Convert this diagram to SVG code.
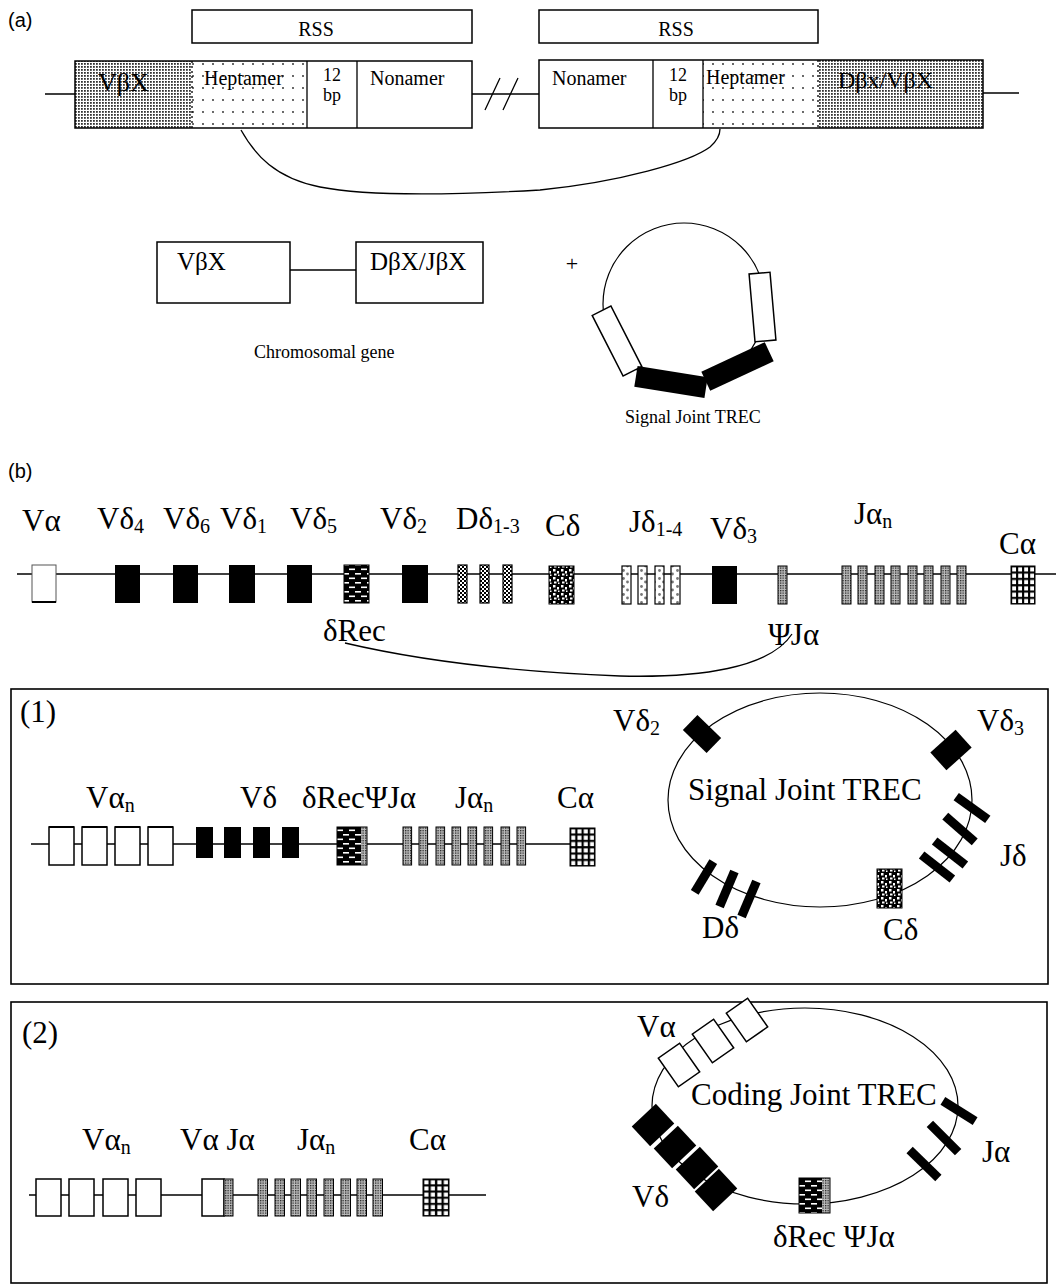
<svg xmlns="http://www.w3.org/2000/svg" width="1056" height="1285" viewBox="0 0 1056 1285">
<style>
.ln{stroke:#000;stroke-width:1.3;fill:none}
.bx{fill:#fff;stroke:#000;stroke-width:1.5}
.ob{fill:none;stroke:#000;stroke-width:1.5}
.blk{fill:#000}
.t{font-family:"Liberation Serif","Times New Roman",serif;fill:#000}
.big{font-size:31px}
.sm{font-size:20px}
.bp{font-size:18px}
.sub{font-size:20px}
.sans{font-family:"Liberation Sans",Arial,sans-serif;font-size:20px;fill:#000}
.fr{fill:none;stroke:#000;stroke-width:1.6}
</style>
<defs>
<pattern id="pStip" width="3" height="3" patternUnits="userSpaceOnUse"><rect width="3" height="3" fill="#fff"/><rect width="1.8" height="1.8" fill="#333"/></pattern>
<pattern id="pDots" width="10" height="12" patternUnits="userSpaceOnUse"><rect width="10" height="12" fill="#fff"/><circle cx="3" cy="4" r="0.9" fill="#222"/></pattern>
<pattern id="pBrick" width="12" height="9" patternUnits="userSpaceOnUse"><rect width="12" height="9" fill="#000"/><rect x="1" y="1.5" width="6" height="1.6" fill="#fff"/><rect x="7" y="6" width="6" height="1.6" fill="#fff"/><rect x="-5" y="6" width="6" height="1.6" fill="#fff"/></pattern>
<pattern id="pChk" width="4" height="4" patternUnits="userSpaceOnUse"><rect width="4" height="4" fill="#fff"/><rect width="2" height="2" fill="#000"/><rect x="2" y="2" width="2" height="2" fill="#000"/></pattern>
<pattern id="pCd" width="8" height="8" patternUnits="userSpaceOnUse"><rect width="8" height="8" fill="#000"/><rect x="1" y="1" width="2.5" height="2.5" fill="#fff"/><rect x="5" y="3" width="2" height="2.5" fill="#fff"/><rect x="2" y="5.5" width="2.5" height="2" fill="#fff"/><rect x="6" y="6.5" width="1.5" height="1.5" fill="#fff"/></pattern>
<pattern id="pJd" width="9" height="8" patternUnits="userSpaceOnUse"><rect width="9" height="8" fill="#fff"/><circle cx="2.5" cy="2.5" r="1.4" fill="#777"/><circle cx="6.5" cy="6" r="1.4" fill="#777"/></pattern>
<pattern id="pDense" width="2.5" height="2.5" patternUnits="userSpaceOnUse"><rect width="2.5" height="2.5" fill="#bbb"/><rect width="1.3" height="1.3" fill="#222"/></pattern>
<pattern id="pGrid" patternUnits="objectBoundingBox" width="0.25" height="0.16667" patternContentUnits="objectBoundingBox"><rect width="0.25" height="0.16667" fill="#000"/><rect x="0.05" y="0.035" width="0.16" height="0.11" fill="#fff"/></pattern>
</defs>

<!-- ===== (a) ===== -->
<g id="label-a"><text class="sans" x="8" y="27">(a)</text></g>

<g id="rss-1"><rect class="bx" x="192" y="10" width="280" height="33"/><text class="t" font-size="20" x="316" y="36" text-anchor="middle">RSS</text></g>
<g id="rss-2"><rect class="bx" x="539" y="10" width="279" height="33"/><text class="t" font-size="20" x="676" y="36" text-anchor="middle">RSS</text></g>

<g id="gene-a-left">
<path class="ln" d="M45,94 H75 M472,94 H539"/>
<rect x="75" y="61" width="117" height="67" fill="url(#pStip)"/>
<rect x="192" y="61" width="115" height="67" fill="url(#pDots)"/>
<rect class="ob" x="75" y="61" width="397" height="67"/>
<path class="ln" d="M307,61 V128 M357,61 V128"/>
<path d="M192,61 V128" stroke="#000" stroke-width="1.3" stroke-dasharray="2,3"/>
<text class="t" font-size="26" x="98" y="91">VβX</text>
<text class="t sm" x="204" y="85">Heptamer</text>
<text class="t bp" x="332" y="81" text-anchor="middle">12</text>
<text class="t bp" x="332" y="101" text-anchor="middle">bp</text>
<text class="t sm" x="370" y="85">Nonamer</text>
</g>
<g id="break"><path class="ln" d="M485,110 L500,78 M503,110 L518,78"/></g>
<g id="gene-a-right">
<path class="ln" d="M983,93 H1019"/>
<rect x="703" y="60" width="115" height="68" fill="url(#pDots)"/>
<rect x="818" y="60" width="165" height="68" fill="url(#pStip)"/>
<rect class="ob" x="539" y="60" width="444" height="68"/>
<path class="ln" d="M653,60 V128 M703,60 V128"/>
<path d="M818,60 V128" stroke="#000" stroke-width="1.3" stroke-dasharray="2,3"/>
<text class="t sm" x="552" y="85">Nonamer</text>
<text class="t bp" x="678" y="81" text-anchor="middle">12</text>
<text class="t bp" x="678" y="101" text-anchor="middle">bp</text>
<text class="t sm" x="706" y="84">Heptamer</text>
<text class="t" font-size="24" x="838" y="88">Dβx/VβX</text>
</g>

<g id="chromosomal-gene">
<path class="ln" d="M290,270 H356"/>
<rect class="bx" x="157" y="242" width="133" height="61"/>
<rect class="bx" x="356" y="242" width="127" height="61"/>
<text class="t" font-size="25" x="177" y="270">VβX</text>
<text class="t" font-size="25" x="370" y="270">DβX/JβX</text>
<text class="t" font-size="18" x="254" y="358">Chromosomal gene</text>
</g>
<g id="plus"><text class="t" font-size="22" x="572" y="271" text-anchor="middle">+</text></g>

<g id="trec-a">
<circle cx="684" cy="304" r="81" fill="none" stroke="#000" stroke-width="1.2"/>
<rect class="bx" x="-10.5" y="-34" width="21" height="68" transform="translate(762.5,307) rotate(-5)"/>
<rect class="bx" x="-10.5" y="-34" width="21" height="68" transform="translate(617,341) rotate(-27)"/>
<rect class="blk" x="-35.5" y="-10.5" width="71" height="21" transform="translate(671,382) rotate(9)"/>
<rect class="blk" x="-35" y="-10.5" width="70" height="21" transform="translate(737.5,366.5) rotate(-25)"/>
<text class="t" font-size="18" x="625" y="423">Signal Joint TREC</text>
</g>

<!-- ===== (b) ===== -->
<g id="label-b"><text class="sans" x="8" y="478">(b)</text></g>

<g id="locus">
<path class="ln" d="M17,574 H1056"/>
<rect x="32" y="565" width="24" height="37" fill="#fff" stroke="#555" stroke-width="1"/>
<path d="M32,602 H56" stroke="#000" stroke-width="2"/>
<rect class="blk" x="115" y="565" width="25" height="38"/>
<rect class="blk" x="173" y="565" width="25" height="38"/>
<rect class="blk" x="229" y="565" width="26" height="38"/>
<rect class="blk" x="287" y="565" width="25" height="38"/>
<rect x="344" y="565" width="25" height="38" fill="url(#pBrick)" stroke="#000"/>
<rect class="blk" x="402" y="565" width="26" height="38"/>
<g fill="url(#pChk)" stroke="#000" stroke-width="1.2">
<rect x="458" y="565" width="9" height="38"/><rect x="480" y="565" width="9" height="38"/><rect x="503" y="565" width="9" height="38"/>
</g>
<rect x="549" y="566" width="25" height="38" fill="url(#pCd)" stroke="#000"/>
<g fill="url(#pJd)" stroke="#000" stroke-width="1.2">
<rect x="622" y="566" width="9" height="38"/><rect x="638" y="566" width="9" height="38"/><rect x="655" y="566" width="9" height="38"/><rect x="671" y="566" width="9" height="38"/>
</g>
<rect class="blk" x="712" y="566" width="25" height="38"/>
<g fill="url(#pDense)" stroke="#000" stroke-width="1">
<rect x="778" y="566" width="9" height="38"/>
<rect x="842" y="566" width="9" height="38"/><rect x="858" y="566" width="9" height="38"/><rect x="875" y="566" width="9" height="38"/><rect x="891" y="566" width="9" height="38"/><rect x="908" y="566" width="9" height="38"/><rect x="924" y="566" width="9" height="38"/><rect x="941" y="566" width="9" height="38"/><rect x="957" y="566" width="9" height="38"/>
</g>
<rect x="1011" y="566" width="24" height="38" fill="url(#pGrid)" stroke="#000"/>
<g class="t big">
<text x="22" y="531">Vα</text>
<text x="97" y="529">Vδ<tspan class="sub" dy="4">4</tspan></text>
<text x="163" y="529">Vδ<tspan class="sub" dy="4">6</tspan></text>
<text x="220" y="529">Vδ<tspan class="sub" dy="4">1</tspan></text>
<text x="290" y="529">Vδ<tspan class="sub" dy="4">5</tspan></text>
<text x="380" y="529">Vδ<tspan class="sub" dy="4">2</tspan></text>
<text x="456" y="529">Dδ<tspan class="sub" dy="4">1-3</tspan></text>
<text x="545" y="536">Cδ</text>
<text x="629" y="532">Jδ<tspan class="sub" dy="4">1-4</tspan></text>
<text x="710" y="539">Vδ<tspan class="sub" dy="4">3</tspan></text>
<text x="854" y="524">Jα<tspan class="sub" dy="4">n</tspan></text>
<text x="999" y="554">Cα</text>
<text x="323" y="641">δRec</text>
<text x="768" y="645">ΨJα</text>
</g>
</g>

<g id="connectors">
<path class="ln" d="M241,130 C255,155 275,178 320,187 C370,197 470,194 540,190 C620,182 690,162 710,147 C718,140 720,135 720,129"/>
<path class="ln" d="M345,643 C430,663 520,672 620,676 C700,678 770,668 792,634"/>
</g>

<!-- ===== (1) ===== -->
<g id="panel-1">
<rect class="fr" x="11" y="689" width="1037" height="295"/>
<text class="t" font-size="31" x="20" y="722">(1)</text>
</g>
<g id="gene-1">
<path class="ln" d="M31,844 H570"/>
<g class="bx" stroke-width="1"><rect x="49" y="827" width="25" height="38"/><rect x="82" y="827" width="25" height="38"/><rect x="115" y="827" width="25" height="38"/><rect x="148" y="827" width="25" height="38"/></g>
<path d="M49,827 H74 M82,827 H107 M115,827 H140 M148,827 H173" stroke="#000" stroke-width="2"/>
<rect class="blk" x="196" y="827" width="17" height="31"/><rect class="blk" x="224" y="827" width="17" height="31"/><rect class="blk" x="253" y="827" width="17" height="31"/><rect class="blk" x="282" y="827" width="17" height="31"/>
<rect x="337" y="827" width="24" height="38" fill="url(#pBrick)"/>
<rect x="361" y="827" width="6" height="38" fill="url(#pDense)"/>
<rect x="337" y="827" width="30" height="38" fill="none" stroke="#000"/>
<g fill="url(#pDense)" stroke="#000" stroke-width="1">
<rect x="403" y="827" width="8.6" height="38"/><rect x="419" y="827" width="8.6" height="38"/><rect x="436" y="827" width="8.6" height="38"/><rect x="452" y="827" width="8.6" height="38"/><rect x="468" y="827" width="8.6" height="38"/><rect x="484" y="827" width="8.6" height="38"/><rect x="501" y="827" width="8.6" height="38"/><rect x="517" y="827" width="8.6" height="38"/>
</g>
<rect x="570" y="828" width="25" height="38" fill="url(#pGrid)" stroke="#000"/>
<g class="t big">
<text x="86" y="808">Vα<tspan class="sub" dy="4">n</tspan></text>
<text x="240" y="808">Vδ</text>
<text x="302" y="808">δRecΨJα</text>
<text x="455" y="808">Jα<tspan class="sub" dy="4">n</tspan></text>
<text x="557" y="808">Cα</text>
</g>
</g>
<g id="trec-1">
<ellipse cx="820" cy="800" rx="152" ry="107" fill="none" stroke="#000" stroke-width="1.2"/>
<rect class="blk" x="-16.5" y="-10.5" width="33" height="21" transform="translate(702,734) rotate(44)"/>
<rect class="blk" x="-17" y="-12" width="34" height="24" transform="translate(951,750) rotate(-42)"/>
<g class="blk">
<rect x="-19.5" y="-4.5" width="39" height="9" transform="translate(972,808) rotate(36)"/>
<rect x="-19.5" y="-4.5" width="39" height="9" transform="translate(960,829) rotate(41)"/>
<rect x="-19.5" y="-4.5" width="39" height="9" transform="translate(950,853) rotate(38)"/>
<rect x="-19.5" y="-4.5" width="39" height="9" transform="translate(937,867) rotate(38)"/>
<rect x="-4.5" y="-18" width="9" height="36" transform="translate(704,877) rotate(31)"/>
<rect x="-4.5" y="-19" width="9" height="38" transform="translate(727,889) rotate(23)"/>
<rect x="-4.5" y="-19" width="9" height="38" transform="translate(749,899) rotate(23)"/>
</g>
<rect x="877" y="869" width="25" height="39" fill="url(#pCd)" stroke="#000"/>
<g class="t big">
<text x="688" y="800">Signal Joint TREC</text>
<text x="613" y="731">Vδ<tspan class="sub" dy="4">2</tspan></text>
<text x="977" y="731">Vδ<tspan class="sub" dy="4">3</tspan></text>
<text x="1000" y="866">Jδ</text>
<text x="702" y="938">Dδ</text>
<text x="883" y="940">Cδ</text>
</g>
</g>

<!-- ===== (2) ===== -->
<g id="panel-2">
<rect class="fr" x="11" y="1002" width="1036" height="281"/>
<text class="t" font-size="31" x="22" y="1043">(2)</text>
</g>
<g id="gene-2">
<path class="ln" d="M29,1195 H486"/>
<g class="bx" stroke-width="1"><rect x="36" y="1179" width="25" height="37"/><rect x="69" y="1179" width="25" height="37"/><rect x="103" y="1179" width="25" height="37"/><rect x="136" y="1179" width="25" height="37"/><rect x="202" y="1179" width="22" height="37"/></g>
<rect x="224" y="1179" width="9" height="37" fill="url(#pDense)" stroke="#000" stroke-width="1"/>
<g fill="url(#pDense)" stroke="#000" stroke-width="1">
<rect x="258" y="1179" width="9.5" height="37"/><rect x="275" y="1179" width="9.5" height="37"/><rect x="291" y="1179" width="9.5" height="37"/><rect x="307" y="1179" width="9.5" height="37"/><rect x="324" y="1179" width="9.5" height="37"/><rect x="341" y="1179" width="9.5" height="37"/><rect x="357" y="1179" width="9.5" height="37"/><rect x="373" y="1179" width="9.5" height="37"/>
</g>
<rect x="423" y="1179" width="26" height="37" fill="url(#pGrid)" stroke="#000"/>
<g class="t big">
<text x="82" y="1150">Vα<tspan class="sub" dy="4">n</tspan></text>
<text x="180" y="1150">Vα Jα</text>
<text x="297" y="1150">Jα<tspan class="sub" dy="4">n</tspan></text>
<text x="409" y="1150">Cα</text>
</g>
</g>
<g id="trec-2">
<ellipse cx="805" cy="1106" rx="153" ry="98" fill="none" stroke="#000" stroke-width="1.2"/>
<g class="bx" stroke-width="1.2">
<rect x="-13" y="-17.5" width="26" height="35" transform="translate(679,1065) rotate(-35)"/>
<rect x="-13" y="-17.5" width="26" height="35" transform="translate(713,1041) rotate(-35)"/>
<rect x="-13" y="-17.5" width="26" height="35" transform="translate(747,1020) rotate(-35)"/>
</g>
<g class="blk">
<rect x="-16.5" y="-13.5" width="33" height="27" transform="translate(653,1125) rotate(-43)"/>
<rect x="-16.5" y="-13.5" width="33" height="27" transform="translate(675,1147) rotate(-43)"/>
<rect x="-16.5" y="-13.5" width="33" height="27" transform="translate(697,1168) rotate(-43)"/>
<rect x="-16.5" y="-13.5" width="33" height="27" transform="translate(716,1190) rotate(-43)"/>
<rect x="-19" y="-4.5" width="38" height="9" transform="translate(959,1111) rotate(32)"/>
<rect x="-20" y="-4.5" width="40" height="9" transform="translate(944,1138) rotate(45)"/>
<rect x="-20" y="-4.5" width="40" height="9" transform="translate(924,1164) rotate(44)"/>
</g>
<rect x="799" y="1178" width="23" height="35" fill="url(#pBrick)"/>
<rect x="822" y="1178" width="8" height="35" fill="url(#pDense)"/>
<rect x="799" y="1178" width="31" height="35" fill="none" stroke="#000"/>
<g class="t big">
<text x="637" y="1037">Vα</text>
<text x="691" y="1105">Coding Joint TREC</text>
<text x="982" y="1162">Jα</text>
<text x="632" y="1207">Vδ</text>
<text x="773" y="1247">δRec ΨJα</text>
</g>
</g>
</svg>
